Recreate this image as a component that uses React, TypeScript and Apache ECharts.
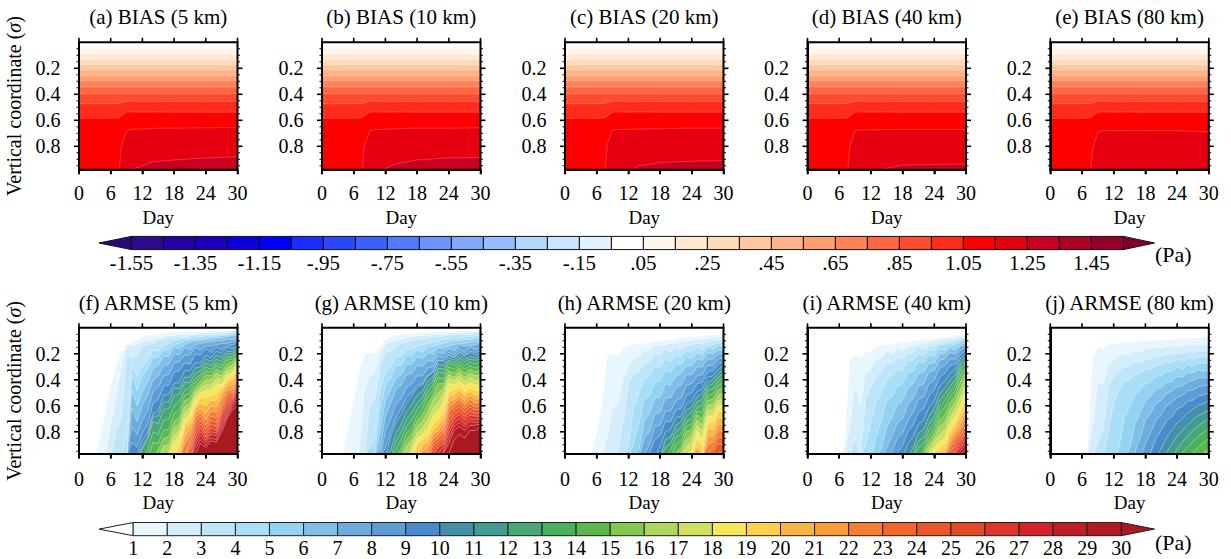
import React, { useEffect, useRef } from "react";
import * as echarts from "echarts";

const FONT = "Liberation Serif";

const BIAS_TITLES = ["(a) BIAS (5 km)", "(b) BIAS (10 km)", "(c) BIAS (20 km)", "(d) BIAS (40 km)", "(e) BIAS (80 km)"];
const ARMSE_TITLES = ["(f) ARMSE (5 km)", "(g) ARMSE (10 km)", "(h) ARMSE (20 km)", "(i) ARMSE (40 km)", "(j) ARMSE (80 km)"];

// BIAS fill colours for levels .05, .15, ... 1.45 and the colour-bar's negative side
const BIAS_POS = ["#fff6ec", "#ffe9d3", "#ffdab9", "#ffc8a0", "#ffb38a", "#ff9e70", "#ff8258", "#ff6644", "#ff4b2f", "#ff2b1c", "#ff0000", "#e6000f", "#c90020", "#af0028", "#94002c"];
const BIAS_NEG = ["#2d0a8e", "#2500a6", "#1a00bd", "#0c00dc", "#0000ff", "#1a2cff", "#2a48ff", "#3c60ff", "#507aff", "#6c94ff", "#80a8ff", "#96bcff", "#b3d8ff", "#c8e6ff", "#e2f2ff", "#ffffff"];
const BIAS_LABELS = ["-1.55", "-1.35", "-1.15", "-.95", "-.75", "-.55", "-.35", "-.15", ".05", ".25", ".45", ".65", ".85", "1.05", "1.25", "1.45"];

const ARMSE_COLORS = ["#e8f6fd", "#d4edfb", "#bfe6f8", "#a8dff6", "#92d3f1", "#80c0e8", "#6cacdf", "#5c9dd5", "#4a8ccb", "#4391a8", "#429c92", "#47a875", "#4bb05c", "#5cb84c", "#86c84f", "#add65a", "#d2e062", "#f6e85c", "#fdd14c", "#f9b544", "#f89d3a", "#f67e31", "#f4652b", "#ea582a", "#e34a28", "#dd3529", "#d32228", "#c11d25", "#b31b23", "#a81a20"];

// BIAS contour depth (sigma x 100)
const BIAS_FLAT = [4.1, 9.2, 13.6, 17.4, 21.3, 25.9, 29.7, 34.4, 39.5];
const BIAS_DAYS = [0, 6, 7.6, 8, 9, 10, 12, 14, 18, 24, 30];
const BIAS_95 = [47.2, 47.2, 47, 46.5, 45.3, 45.3, 45.6, 45.6, 45.5, 45.5, 45.5];
const BIAS_105 = [58.5, 58.5, 58, 56.5, 53.8, 53.5, 53.8, 53.6, 53.8, 53.8, 53.8];
const BIAS_115 = [
  [100, 100, 100, 80, 68.5, 66.8, 66.8, 66.2, 66, 65.8, 65.4],
  [100, 100, 100, 80, 68.5, 67, 67, 66.5, 66, 66, 65.8],
  [100, 100, 100, 78, 67.6, 67, 67, 66.8, 66.5, 66, 66],
  [100, 100, 100, 80, 68, 67.4, 67.4, 67.2, 67, 67, 67],
  [100, 100, 100, 82, 69, 68, 68, 68, 68, 68, 69],
];
const BIAS_125 = [
  [100, 100, 100, 100, 100, 98, 95, 92, 90.5, 89, 88],
  [100, 100, 100, 100, 100, 100, 97, 93.5, 90.5, 89, 88.5],
  [100, 100, 100, 100, 100, 100, 100, 95, 92.5, 91.5, 91],
  [100, 100, 100, 100, 100, 100, 100, 98, 94.4, 94, 93.6],
  [],
];

const DAYS = [3, 4, 5, 6, 7, 8, 9, 10, 11, 12, 13, 14, 15, 16, 17, 18, 19, 20, 21, 22, 23, 24, 25, 26, 27, 28, 29, 30];

// ARMSE contours: one row per level (1..30), sigma x 100, aligned to the end of DAYS
const F_ROWS = [
  [85,65,45,30,18,17,10,9,7,6,5,5,4,4,4,4,3,3,3,3,3,2,2,2,2,2,1],
  [75,55,30,13,13,13,11,10,9,8,7,6,6,5,5,5,5,4,4,4,3,3,3,2,2],
  [80,70,20,24,20,15,13,12,10,9,8,8,7,7,6,6,5,5,5,5,4,4,3,3],
  [85,28,36,30,23,19,16,14,12,10,9,8,8,7,7,6,6,6,5,5,4,4],
  [36,46,38,30,25,21,18,15,13,12,10,9,9,8,8,7,7,6,6,5,5],
  [48,58,50,40,33,27,23,20,17,15,13,11,10,10,9,9,8,8,7,6,6],
  [62,70,60,50,42,35,30,26,22,20,17,15,13,12,11,11,10,10,9,9,8],
  [76,80,72,62,51,44,38,34,29,25,23,19,16,15,14,14,13,12,12,11,10],
  [88,90,82,72,60,53,46,42,36,32,29,26,21,19,18,17,16,15,14,13,12],
  [95,88,78,68,62,53,49,45,41,35,31,28,25,23,21,19,18,17,15,14],
  [92,82,70,66,58,55,48,46,40,36,32,28,26,24,22,21,20,17,15],
  [94,84,74,72,64,60,54,50,44,40,36,31,29,27,25,24,22,19,17],
  [92,82,80,72,68,62,56,50,44,40,34,32,30,28,27,25,21,19],
  [90,87,80,76,68,62,54,48,43,36,35,32,30,29,27,23,20],
  [92,86,82,74,68,58,52,47,39,38,35,33,32,30,25,22],
  [92,88,79,73,63,56,50,42,42,38,36,35,33,28,24],
  [94,85,78,68,60,53,45,46,42,40,38,36,31,26],
  [90,82,72,64,56,48,50,46,44,42,39,34,28],
  [88,76,68,60,52,56,50,52,44,42,37,30],
  [95,80,72,63,56,62,54,57,47,45,40,32],
  [86,76,66,60,68,58,62,50,48,43,35],
  [92,80,70,63,73,62,66,54,51,46,38],
  [84,74,66,77,66,70,58,54,48,40],
  [88,78,69,80,69,74,60,57,50,42],
  [91,82,72,83,72,77,63,60,52,44],
  [94,85,75,86,75,80,66,63,54,46],
  [88,78,88,78,82,69,66,56,48],
  [91,81,90,80,84,72,68,58,52],
  [94,84,92,83,87,75,70,60,56],
  [97,87,94,85,89,78,72,62,60],
];
const G_ROWS = [
  [95,75,55,34,21,19,20,14,9,7,6,5,5,5,4,4,4,4,3,3,3,3,2,2,2,2,2],
  [50,37,35,20,15,11,10,9,8,7,6,6,6,5,5,5,4,4,4,4,3,3,3],
  [60,55,28,21,16,14,12,11,10,9,8,8,7,7,6,6,5,5,5,5,4,4],
  [92,85,46,36,28,23,20,18,16,14,13,12,11,10,9,9,8,8,7,7,6,6],
  [96,62,46,37,30,27,23,21,19,17,16,14,13,12,11,10,10,9,9,8,8],
  [78,58,46,40,34,30,27,24,22,20,18,17,15,14,13,12,12,11,11,10],
  [92,70,56,48,42,38,34,31,28,26,24,21,19,17,16,15,14,14,13,12],
  [82,68,60,52,48,42,39,35,32,28,24,22,20,19,18,17,16,16,15],
  [94,78,70,60,56,49,46,41,38,32,27,24,22,21,20,19,19,18,18],
  [82,74,65,60,52,48,42,38,32,27,25,22,21,21,20,20,20,20],
  [92,82,72,66,58,54,47,42,36,30,28,24,23,23,22,23,22,22],
  [88,78,72,64,60,52,46,39,33,31,26,25,25,24,25,24,24],
  [95,84,78,70,65,56,50,42,36,34,28,27,28,27,27,27,26],
  [90,83,76,70,60,54,46,40,38,31,30,30,30,30,30,29],
  [96,88,80,74,65,60,50,45,42,34,33,33,33,33,33,32],
  [93,85,78,70,66,54,52,46,37,36,36,36,36,36,36],
  [90,83,75,72,60,60,50,40,39,39,39,39,40,40],
  [95,87,80,78,66,66,56,44,42,43,43,43,43,44],
  [92,84,84,72,72,62,50,46,47,47,47,47,48],
  [88,88,77,77,68,54,50,50,50,50,51,51],
  [93,92,80,81,72,58,53,54,54,53,54,54],
  [95,83,84,76,62,56,57,57,56,57,57],
  [98,86,87,79,66,59,60,60,59,60,60],
  [89,90,82,70,62,63,63,62,62,63],
  [92,92,85,74,65,66,66,65,65,65],
  [95,94,88,78,68,69,69,68,67,68],
  [96,91,82,71,72,72,71,70,70],
  [94,86,74,75,74,73,72,72],
  [96,90,77,78,77,76,74,74],
  [97,84,84,83,80,78,76],
];
const H_ROWS = [
  [95,80,60,22,20,21,16,14,13,12,12,11,10,10,9,9,9,8,8,7,7,6,6,6,5,5],
  [85,62,58,40,28,25,21,18,16,15,14,13,12,12,11,10,10,9,9,8,8,7,7],
  [95,72,42,37,32,28,24,22,20,18,17,16,15,14,13,12,12,11,10,10,9],
  [90,62,48,40,35,32,29,26,24,22,20,19,17,16,15,14,13,12,11],
  [90,72,56,50,44,40,35,32,29,26,24,22,20,19,17,16,15,14],
  [92,72,64,56,52,45,42,38,33,31,27,25,23,21,19,18,17],
  [86,78,68,64,56,52,47,42,38,34,31,28,26,23,21,20],
  [97,88,78,74,66,62,57,52,46,41,38,34,31,28,25,23],
  [96,88,82,74,70,64,60,54,48,44,40,36,32,29,26],
  [90,82,76,70,66,60,54,50,45,40,36,33,29],
  [88,82,76,70,65,59,54,49,44,39,36,32],
  [94,87,80,75,70,63,58,53,47,42,39,35],
  [92,85,80,74,68,62,58,50,46,42,38],
  [90,85,78,72,65,63,54,50,45,42],
  [96,90,82,76,68,68,58,54,49,46],
  [96,88,80,72,73,62,58,53,50],
  [94,85,76,78,66,62,57,55],
  [92,80,84,70,67,61,60],
  [98,86,90,75,72,65,65],
  [92,95,80,77,70,70],
  [98,99,86,82,75,75],
  [92,87,80,80],
  [97,92,85,85],
  [96,90,90],
  [96,95],
];
const I_ROWS = [
  [90,25,20,24,19,17,15,14,13,13,12,11,11,10,10,9,9,8,8,7,7,6,5,5],
  [75,45,60,35,30,25,22,20,19,17,16,15,14,13,12,11,10,9,9,8,8,7,6],
  [85,97,55,45,38,32,29,26,24,22,20,18,17,15,14,13,12,11,10,9,8,7],
  [90,72,58,48,42,36,33,30,26,24,22,20,18,16,15,13,12,11,9,8],
  [85,70,58,52,46,41,36,32,28,25,22,20,18,16,14,13,11,9],
  [92,78,68,60,54,47,42,37,32,28,25,22,19,17,15,13,11],
  [94,82,74,68,60,53,47,41,35,31,27,23,20,18,15,13],
  [94,86,79,72,64,57,51,44,38,33,28,25,22,18,15],
  [96,89,81,74,67,60,53,46,40,34,30,26,21,17],
  [90,83,76,69,62,54,47,40,36,30,24,20],
  [91,83,76,69,60,53,45,41,34,27,22],
  [97,89,82,75,66,58,50,46,38,30,25],
  [94,87,80,71,63,55,50,42,33,27],
  [92,84,75,68,60,54,46,37,30],
  [97,88,79,73,66,59,50,42,33],
  [92,83,78,72,64,55,48,37],
  [96,86,84,78,70,60,54,42],
  [90,90,83,75,65,60,48],
  [94,95,88,80,70,65,55],
  [98,99,92,84,74,70,60],
  [96,87,78,74,64],
  [99,90,81,78,68],
  [93,84,81,72],
  [96,87,84,75],
  [90,87,78],
  [93,90,81],
  [96,93,85],
  [95,89],
  [97,93],
  [97],
];
const J_ROWS = [
  [24,14,16,13,12,12,11,11,11,10,10,10,10,9,9,9,9,8,8,8,8,7,7],
  [75,42,44,28,25,22,20,20,18,18,17,16,16,15,15,14,14,14,13,13,13,13,12],
  [88,78,45,37,33,30,29,27,26,25,23,23,21,21,20,20,19,19,18,18,18,17],
  [80,58,47,42,39,37,34,33,31,30,28,27,26,25,25,24,23,23,22,22],
  [92,70,60,52,47,44,41,38,36,34,33,31,31,29,29,28,27,27],
  [92,75,64,57,52,48,45,42,41,38,37,35,34,33,33,32],
  [96,84,72,65,59,55,51,48,46,44,42,40,39,38,38],
  [90,80,72,66,60,57,54,51,49,47,46,44,44],
  [96,86,78,72,68,63,60,57,55,53,51,50],
  [92,85,78,74,69,66,62,60,58,56],
  [96,89,84,78,75,70,68,65,63],
  [94,87,84,78,76,72,70],
  [96,92,87,84,80,77],
  [95,92,88,85],
  [96,93],
];
const ARMSE_ROWS = [F_ROWS, G_ROWS, H_ROWS, I_ROWS, J_ROWS];

// Saw-tooth of the contours read day by day (sigma x 100), one list per ARMSE panel
const F_SAW = [0,0,0,0,0,0,0,0,2,-1,2,-2,2,-1,2,-2,1,-2,2,-1,2,-2,2,-1,2,-2,1,0];
const G_SAW = [0,0,0,0,0,0,0,0,1,-2,2,-1,2,-2,1,-2,2,-1,2,-2,1,-1,2,-2,2,-1,1,0];
const H_SAW = [0,0,0,0,0,0,0,0,0,1,-1,2,-1,2,-2,1,-2,2,-1,2,-2,2,-1,2,-2,1,-1,0];
const I_SAW = [0,0,0,0,0,0,0,0,0,1,-1,1,-2,1,-1,2,-1,1,-2,2,-1,2,-2,1,-1,2,-1,0];
const J_SAW = [0,0,0,0,0,0,0,0,0,0,0.5,-0.5,0.8,-0.5,0.8,-0.8,0.5,-0.8,0.8,-0.5,0.8,-0.8,0.8,-0.5,0.8,-0.5,0.5,0];
const ARMSE_SAW = [F_SAW, G_SAW, H_SAW, I_SAW, J_SAW];

const ARMSE_LABELS = ["1", "2", "3", "4", "5", "6", "7", "8", "9", "10", "11", "12", "13", "14", "15", "16", "17", "18", "19", "20", "21", "22", "23", "24", "25", "26", "27", "28", "29", "30"];
const DAY_TICKS = [0, 6, 12, 18, 24, 30];
const SIGMA_TICKS = [0.2, 0.4, 0.6, 0.8];
const SIGMA_MINOR = [0.05, 0.1, 0.15, 0.25, 0.3, 0.35, 0.45, 0.5, 0.55, 0.65, 0.7, 0.75, 0.85, 0.9, 0.95];
const PANEL_LEFT = [79, 322, 565, 807.5, 1050.3];
const PANEL_WIDTH = 158.5;

function tickLabel(v: number) {
  return v > 0 && Math.abs(v * 5 - Math.round(v * 5)) < 1e-6 ? v.toFixed(1) : "";
}

function buildOption() {
  const grid: any[] = [], xAxis: any[] = [], yAxis: any[] = [], series: any[] = [], title: any[] = [];
  const graphics: any[] = [];
  const axisLine = { show: true, onZero: false, lineStyle: { color: "#000", width: 2 } };
  const tick = (len: number) => ({ show: true, length: len, lineStyle: { color: "#000", width: 1.6 } });
  const text = { fontFamily: FONT, fontSize: 20, color: "#000" };

  const frameLine = (x1: number, y1: number, x2: number, y2: number, width: number) =>
    graphics.push({ type: "line", z: 20, silent: true, shape: { x1, y1, x2, y2 }, style: { stroke: "#000", lineWidth: width } });

  const addPanel = (g: number, row: number, col: number) => {
    const top = row === 0 ? 42.3 : 327.8;
    const maxS = row === 0 ? 0.98 : 0.97;
    const height = maxS * 130;
    const left = PANEL_LEFT[col];
    grid.push({ left, top, width: PANEL_WIDTH, height, show: true, backgroundColor: "#fff", borderWidth: 0 });
    xAxis.push({
      type: "value", gridIndex: g, min: 0, max: 30, interval: 6, z: 5, splitLine: { show: false }, axisLine,
      position: "bottom", axisTick: tick(4.5),
      axisLabel: { ...text, margin: row === 0 ? 13 : 15 },
      name: "Day", nameLocation: "middle", nameGap: row === 0 ? 38 : 39, nameMoveOverlap: false,
      nameTextStyle: { fontFamily: FONT, fontSize: 19, color: "#000" },
    });
    yAxis.push({
      type: "value", gridIndex: g, min: 0, max: maxS, interval: 0.2, inverse: true, z: 5,
      splitLine: { show: false }, minorSplitLine: { show: false }, axisLine,
      minorTick: { show: false },
      position: "left", axisTick: { show: false },
      axisLabel: { ...text, margin: 18.5, formatter: tickLabel },
      ...(col === 0 ? {
        name: "Vertical coordinate ({i|σ})", nameLocation: "middle", nameGap: 55, nameMoveOverlap: false,
        nameTextStyle: { fontFamily: FONT, fontSize: 20, color: "#000", rich: { i: { fontFamily: FONT, fontSize: 20, fontStyle: "italic", color: "#000" } } },
      } : {}),
    });
    // frame and the ticks of all four sides
    const right = left + PANEL_WIDTH, bottom = top + height;
    frameLine(left - 1, top, right + 1, top, 2);
    frameLine(left - 1, bottom, right + 1, bottom, 2);
    frameLine(left, top, left, bottom, 2);
    frameLine(right, top, right, bottom, 2);
    DAY_TICKS.forEach((d) => {
      const x = left + (d / 30) * PANEL_WIDTH;
      frameLine(x, top - 4.5, x, top, 1.6);
      frameLine(x, bottom, x, bottom + 4.5, 1.6);
    });
    SIGMA_TICKS.forEach((s) => {
      const y = top + s * 130;
      frameLine(left - 5, y, left, y, 1.6);
      frameLine(right, y, right + 5, y, 1.6);
    });
    SIGMA_MINOR.forEach((s) => {
      if (s >= maxS) return;
      const y = top + s * 130;
      frameLine(left - 2.5, y, left, y, 1);
      frameLine(right, y, right + 2.5, y, 1);
    });
    title.push({
      text: (row === 0 ? BIAS_TITLES : ARMSE_TITLES)[col], padding: 0,
      left: left + PANEL_WIDTH / 2, top: row === 0 ? 16.5 : 303,
      textAlign: "center", textVerticalAlign: "middle",
      textStyle: { fontFamily: FONT, fontSize: 21, fontWeight: "normal", color: "#000" },
    });
  };

  const addContour = (g: number, data: number[][], color: string, name: string, seam: string, seamWidth: number) => {
    series.push({
      type: "line", name, xAxisIndex: g, yAxisIndex: g, data, symbol: "none", silent: true, clip: true, z: 2,
      lineStyle: { color: seam, width: seamWidth },
      areaStyle: { color, opacity: 1, origin: "end" },
    });
  };
  const BIAS_SEAM = "rgba(255,255,255,0.35)";
  const ARMSE_SEAM = "rgba(255,255,255,0.45)";

  for (let c = 0; c < 5; c++) {
    const g = c;
    addPanel(g, 0, c);
    BIAS_FLAT.forEach((s, i) => addContour(g, [[0, s / 100], [30, s / 100]], BIAS_POS[i], "b" + i, BIAS_SEAM, 0.6));
    addContour(g, BIAS_DAYS.map((d, i) => [d, BIAS_95[i] / 100]), BIAS_POS[9], "b9", BIAS_SEAM, 0.6);
    addContour(g, BIAS_DAYS.map((d, i) => [d, BIAS_105[i] / 100]), BIAS_POS[10], "b10", BIAS_SEAM, 0.6);
    addContour(g, BIAS_DAYS.map((d, i) => [d, BIAS_115[c][i] / 100]), BIAS_POS[11], "b11", BIAS_SEAM, 0.6);
    if (BIAS_125[c].length) addContour(g, BIAS_DAYS.map((d, i) => [d, BIAS_125[c][i] / 100]), BIAS_POS[12], "b12", BIAS_SEAM, 0.6);
  }
  for (let c = 0; c < 5; c++) {
    const g = c + 5;
    addPanel(g, 1, c);
    const saw = ARMSE_SAW[c];
    ARMSE_ROWS[c].forEach((row, lev) => {
      const offset = DAYS.length - row.length;
      const data = DAYS.map((d, i) => {
        if (i < offset) return [d, 1];
        const s = row[i - offset];
        return [d, (s > 14 && s < 96 ? s + saw[i] : s) / 100];
      });
      addContour(g, data, ARMSE_COLORS[lev], "a" + lev, ARMSE_SEAM, 0.8);
    });
  }

  // colour bars
  const bar = (x0: number, step: number, y0: number, y1: number, colors: string[], leftFill: string, rightFill: string, stroke: string) => {
    const tipL = 99, tipR = 1154.5, mid = (y0 + y1) / 2;
    const xEnd = x0 + step * colors.length;
    graphics.push({ type: "polygon", shape: { points: [[tipL, mid], [x0, y0], [x0, y1]] }, style: { fill: leftFill, stroke, lineWidth: 1 } });
    graphics.push({ type: "polygon", shape: { points: [[tipR, mid], [xEnd, y0], [xEnd, y1]] }, style: { fill: rightFill, stroke, lineWidth: 1 } });
    colors.forEach((c, i) => {
      graphics.push({ type: "rect", shape: { x: x0 + i * step, y: y0, width: step, height: y1 - y0 }, style: { fill: c, stroke, lineWidth: 1 } });
    });
  };
  const labelText = (t: string, x: number, y: number, size: number, align = "center") =>
    graphics.push({ type: "text", x, y, style: { text: t, fontFamily: FONT, fontSize: size, fill: "#000", align, verticalAlign: "middle" } });

  bar(131.4, 32, 236.4, 249.6, [...BIAS_NEG, ...BIAS_POS], "#2a0a78", "#82002c", "#111");
  BIAS_LABELS.forEach((t, i) => labelText(t, 131.4 + i * 64, 263, 21));
  labelText("(Pa)", 1155, 254.5, 22, "left");

  bar(133.2, 34.07, 522.5, 535.7, ARMSE_COLORS.slice(0, 29), "#ffffff", ARMSE_COLORS[29], "#222");
  ARMSE_LABELS.forEach((t, i) => labelText(t, 133.2 + i * 34.07, 547.5, 20));
  labelText("(Pa)", 1155, 542, 22, "left");

  return { animation: false, backgroundColor: "#fff", title, grid, xAxis, yAxis, series, graphic: { elements: graphics } };
}

export default function App() {
  const ref = useRef<HTMLDivElement>(null);
  useEffect(() => {
    const chart = echarts.init(ref.current!, undefined, { renderer: "svg" });
    chart.setOption(buildOption() as any);
    return () => chart.dispose();
  }, []);
  return <div ref={ref} style={{ position: "fixed", left: 0, top: 0, width: 1231, height: 559 }} />;
}
